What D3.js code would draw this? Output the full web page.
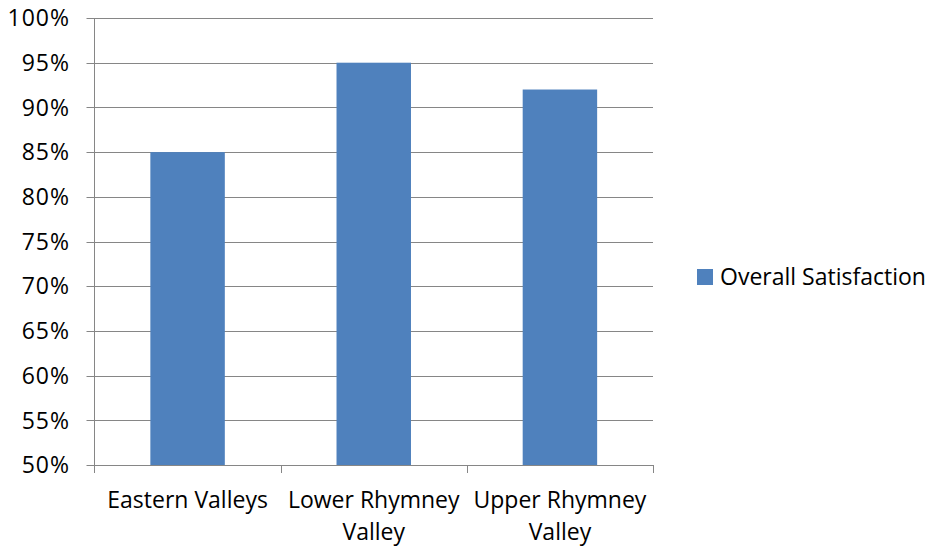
<!DOCTYPE html>
<html>
<head>
<meta charset="utf-8">
<script src="https://cdn.jsdelivr.net/npm/d3@7"></script>
<style>
  html, body { margin: 0; padding: 0; background: #fff; }
  svg text { font-family: "Open Sans", "Liberation Sans", sans-serif; fill: #000; }
</style>
</head>
<body>
<div id="chart"></div>
<script>
const categories = [["Eastern Valleys"], ["Lower Rhymney", "Valley"], ["Upper Rhymney", "Valley"]];
const satisfaction = [0.85, 0.95, 0.92];
const yTicks = [0.5, 0.55, 0.6, 0.65, 0.7, 0.75, 0.8, 0.85, 0.9, 0.95, 1.0];
const seriesName = "Overall Satisfaction";

const width = 928, height = 546;
const margin = { top: 18, right: 275, bottom: 81, left: 94.5 };

const svg = d3.select("#chart").append("svg")
  .attr("width", width)
  .attr("height", height)
  .attr("viewBox", [0, 0, width, height]);

const x = d3.scaleBand()
  .domain(d3.range(categories.length))
  .range([margin.left, width - margin.right])
  .paddingInner(0.6)
  .paddingOuter(0.3);

const xEdge = d3.scaleLinear()
  .domain([0, categories.length])
  .range([margin.left, width - margin.right]);

const y = d3.scaleLinear()
  .domain([0.5, 1.0])
  .range([height - margin.bottom, margin.top]);

// gridlines
svg.append("g")
  .selectAll("line")
  .data(yTicks)
  .enter().append("line")
  .attr("x1", margin.left - 8)
  .attr("x2", width - margin.right)
  .attr("y1", d => Math.round(y(d)) + 0.5)
  .attr("y2", d => Math.round(y(d)) + 0.5)
  .attr("stroke", "#868686")
  .attr("stroke-width", 1);

// y labels
svg.append("g")
  .selectAll("text")
  .data(yTicks)
  .enter().append("text")
  .attr("x", 70)
  .attr("y", d => y(d))
  .attr("dy", "0.36em")
  .attr("text-anchor", "end")
  .style("font-size", "23px")
  .style("letter-spacing", "1px")
  .text(d => d3.format(".0%")(d));

// bars
svg.append("g")
  .selectAll("rect")
  .data(satisfaction)
  .enter().append("rect")
  .attr("x", (d, i) => x(i))
  .attr("width", x.bandwidth())
  .attr("y", d => y(d))
  .attr("height", d => y(0.5) - y(d))
  .attr("fill", "#4f81bd");

// y axis line
svg.append("line")
  .attr("x1", margin.left).attr("x2", margin.left)
  .attr("y1", margin.top).attr("y2", y(0.5) + 8)
  .attr("stroke", "#868686");

// x axis baseline + ticks
svg.append("line")
  .attr("x1", margin.left).attr("x2", width - margin.right)
  .attr("y1", Math.round(y(0.5)) + 0.5).attr("y2", Math.round(y(0.5)) + 0.5)
  .attr("stroke", "#868686");

svg.append("g")
  .selectAll("line")
  .data(d3.range(1, categories.length + 1))
  .enter().append("line")
  .attr("x1", d => Math.round(xEdge(d)) + 0.5)
  .attr("x2", d => Math.round(xEdge(d)) + 0.5)
  .attr("y1", y(0.5))
  .attr("y2", y(0.5) + 8)
  .attr("stroke", "#868686");

// category labels
const catLabels = svg.append("g")
  .selectAll("text")
  .data(categories)
  .enter().append("text")
  .attr("text-anchor", "middle")
  .style("font-size", "23px");

catLabels.selectAll("tspan")
  .data((d, i) => d.map(line => ({ line, i })))
  .enter().append("tspan")
  .attr("x", d => x(d.i) + x.bandwidth() / 2)
  .attr("y", (d, j) => 508 + j * 32)
  .text(d => d.line);

// legend
const legend = svg.append("g").attr("transform", "translate(697,269)");
legend.append("rect")
  .attr("width", 16).attr("height", 16)
  .attr("fill", "#4f81bd");
legend.append("text")
  .attr("x", 23)
  .attr("y", 8)
  .attr("dy", "0.36em")
  .style("font-size", "23px")
  .text(seriesName);
</script>
</body>
</html>
